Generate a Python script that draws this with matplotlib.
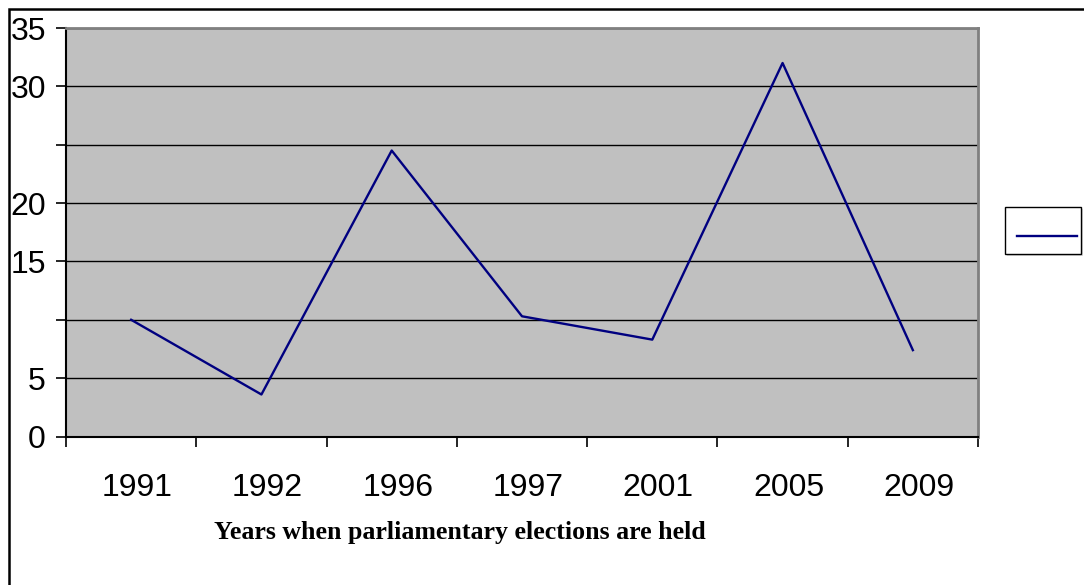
import matplotlib
matplotlib.use("Agg")
import matplotlib.pyplot as plt
import matplotlib.transforms as mtransforms
from matplotlib.patches import Rectangle
from matplotlib.lines import Line2D

# data
years = ["1991", "1992", "1996", "1997", "2001", "2005", "2009"]
values = [10.0, 3.6, 24.5, 10.3, 8.3, 32.0, 7.4]
ytick_vals = [0, 5, 10, 15, 20, 25, 30, 35]
ytick_labels = ["0", "5", "", "15", "20", "", "30", "35"]
xlabel = "Years when parliamentary elections are held"

W, H = 1084, 585
fig = plt.figure(figsize=(W / 100, H / 100), dpi=100)

# outer chart frame (runs past right/bottom edge)
fig.patches.append(Rectangle((9 / W, -0.1), 1.2, 1 - 9 / H + 0.1, transform=fig.transFigure,
                             fill=False, edgecolor="black", linewidth=1.8))

ax = fig.add_axes([66 / W, (H - 436.5) / H, 912 / W, 408.5 / H])
ax.set_facecolor("#c0c0c0")

x = range(len(years))
ax.plot(x, values, color="#000080", linewidth=1.7, zorder=3)

ax.set_xlim(-0.5, len(years) - 0.5)
ax.set_ylim(0, 35)

# gridlines
ax.set_yticks(ytick_vals)
ax.set_yticklabels(ytick_labels, fontfamily="Liberation Sans", fontsize=23)
ax.yaxis.grid(True, color="black", linewidth=1.0)
ax.set_axisbelow(True)
ax.tick_params(axis="y", length=7, width=1.2, pad=7.5, color="black")

# category boundaries as tick marks, labels at centers
ax.set_xticks([i - 0.5 for i in range(len(years) + 1)])
ax.set_xticklabels([])
ax.set_xticks(list(x), minor=True)
ax.set_xticklabels(years, minor=True, fontfamily="Liberation Sans", fontsize=23)
ax.tick_params(axis="x", which="major", length=7, width=1.2, color="black")
ax.tick_params(axis="x", which="minor", length=0, pad=26)
shift = mtransforms.ScaledTranslation(6 / 100, 0, fig.dpi_scale_trans)
for lab in ax.get_xticklabels(minor=True):
    lab.set_transform(lab.get_transform() + shift)

for side in ["top", "right"]:
    ax.spines[side].set_color("#808080")
    ax.spines[side].set_linewidth(2)
for side in ["left", "bottom"]:
    ax.spines[side].set_color("black")
    ax.spines[side].set_linewidth(1.5)

fig.text(460 / W, 1 - 532 / H, xlabel, ha="center", va="center",
         fontfamily="Liberation Serif", fontweight="bold", fontsize=18.6)

# legend box (no text, only the line sample)
lx0, ly0, lw, lh = 1005, 207, 76, 47
fig.patches.append(Rectangle(((lx0 + 2) / W, 1 - (ly0 + lh + 2) / H), lw / W, lh / H,
                             transform=fig.transFigure, facecolor="#d9d9d9", edgecolor="none"))
fig.patches.append(Rectangle((lx0 / W, 1 - (ly0 + lh) / H), lw / W, lh / H,
                             transform=fig.transFigure, facecolor="white", edgecolor="black",
                             linewidth=1.0))
fig.lines.append(Line2D([1017 / W, 1077 / W], [1 - 236 / H, 1 - 236 / H],
                        transform=fig.transFigure, color="#000080", linewidth=1.7))

fig.savefig("out.png", dpi=100)
